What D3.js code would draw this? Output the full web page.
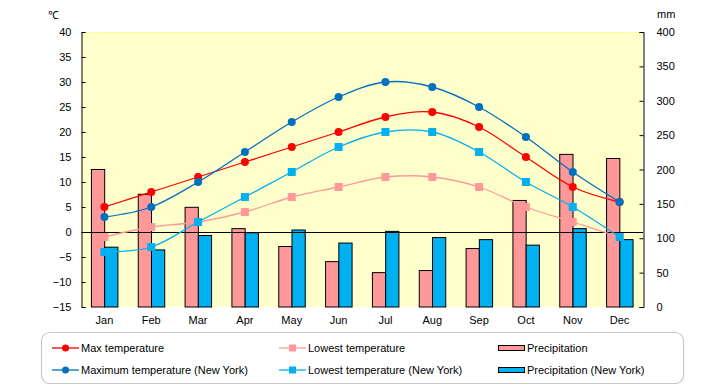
<!DOCTYPE html>
<html>
<head>
<meta charset="utf-8">
<script src="https://cdn.jsdelivr.net/npm/d3@7"></script>
<style>
  body { margin: 0; background: #fff; }
  text { font-family: "Liberation Sans", Arial, sans-serif; font-size: 11px; fill: #000; }
</style>
</head>
<body>
<svg id="chart" width="720" height="385"></svg>
<script>
// data
const months = ['Jan','Feb','Mar','Apr','May','Jun','Jul','Aug','Sep','Oct','Nov','Dec'];
const maxTemp    = [5, 8, 11, 14, 17, 20, 23, 24, 21, 15, 9, 6];
const lowTemp    = [-1, 1, 2, 4, 7, 9, 11, 11, 9, 5, 2, -1];
const maxTempNY  = [3, 5, 10, 16, 22, 27, 30, 29, 25, 19, 12, 6];
const lowTempNY  = [-4, -3, 2, 7, 12, 17, 20, 20, 16, 10, 5, -1];
const precip     = [200, 164, 145, 114, 88, 66, 50, 53, 85, 155, 222, 216];
const precipNY   = [87, 83, 104, 108, 112, 93, 110, 101, 98, 90, 114, 98];
const tempTicks  = d3.range(-15, 41, 5);
const mmTicks    = d3.range(0, 401, 50);

const svg = d3.select('#chart');

const pLeft = 81, pRight = 643, pTop = 32, pBottom = 307;

const x = d3.scaleBand().domain(months).range([pLeft, pRight]);
const xs = d3.scaleBand().domain(['p', 'ny']).range([-13, 13.5]);
const yT = d3.scaleLinear().domain([-15, 40]).range([pBottom, pTop]);
const yP = d3.scaleLinear().domain([0, 400]).range([pBottom, pTop]);
const cx = m => x(m) + x.bandwidth() / 2;

// plot area
svg.append('rect')
  .attr('x', pLeft).attr('y', pTop)
  .attr('width', pRight - pLeft).attr('height', pBottom - pTop)
  .attr('fill', '#ffffcc');
svg.append('line')
  .attr('x1', pLeft).attr('x2', pRight).attr('y1', pTop + 0.5).attr('y2', pTop + 0.5)
  .attr('stroke', '#ffff99');

// axes
const axL = svg.append('g').attr('transform', `translate(${pLeft + 0.5},0)`)
  .call(d3.axisLeft(yT).tickValues(tempTicks).tickSize(-4).tickPadding(10)
    .tickFormat(d => d < 0 ? '\u2212' + Math.abs(d) : d));
const axR = svg.append('g').attr('transform', `translate(${pRight + 0.5},0)`)
  .call(d3.axisRight(yP).tickValues(mmTicks).tickSize(-4).tickPadding(13));
[axL, axR].forEach(g => {
  g.select('.domain').attr('stroke', '#000');
  g.selectAll('.tick line').attr('stroke', '#000');
  g.selectAll('text').style('font-family', '"Liberation Sans", Arial, sans-serif').style('font-size', '11px');
});

svg.append('text').attr('x', 48).attr('y', 19).text('℃');
svg.append('text').attr('x', 657).attr('y', 18).text('mm');

// bars
const bars = svg.append('g');
bars.selectAll('rect.p')
  .data(precip)
  .join('rect')
    .attr('class', 'p')
    .attr('x', (d, i) => cx(months[i]) + xs('p'))
    .attr('y', d => yP(d))
    .attr('width', xs.bandwidth())
    .attr('height', d => pBottom - yP(d))
    .attr('fill', '#ff9999').attr('stroke', '#000').attr('stroke-width', 1);
bars.selectAll('rect.ny')
  .data(precipNY)
  .join('rect')
    .attr('class', 'ny')
    .attr('x', (d, i) => cx(months[i]) + xs('ny'))
    .attr('y', d => yP(d))
    .attr('width', xs.bandwidth())
    .attr('height', d => pBottom - yP(d))
    .attr('fill', '#00b0f0').attr('stroke', '#000').attr('stroke-width', 1);

// zero line
svg.append('line')
  .attr('x1', pLeft).attr('x2', pRight)
  .attr('y1', yT(0) + 0.5).attr('y2', yT(0) + 0.5)
  .attr('stroke', '#000');

// month labels
svg.append('g').selectAll('text')
  .data(months)
  .join('text')
    .attr('x', d => cx(d))
    .attr('y', 324)
    .attr('text-anchor', 'middle')
    .text(d => d);

// lines
const line = d3.line()
  .x((d, i) => cx(months[i]))
  .y(d => yT(d))
  .curve(d3.curveCatmullRom.alpha(0));

const series = [
  { name: 'Max temperature', vals: maxTemp, color: '#ff0000', mark: 'circle' },
  { name: 'Lowest temperature', vals: lowTemp, color: '#ff9999', mark: 'square' },
  { name: 'Maximum temperature (New York)', vals: maxTempNY, color: '#0070c0', mark: 'circle' },
  { name: 'Lowest temperature (New York)', vals: lowTempNY, color: '#00b0f0', mark: 'square' }
];

function drawMark(g, s, px, py) {
  if (s.mark === 'circle') {
    g.append('circle').attr('cx', px).attr('cy', py).attr('r', 4).attr('fill', s.color);
  } else {
    g.append('rect').attr('x', px - 4).attr('y', py - 4).attr('width', 8).attr('height', 8).attr('fill', s.color);
  }
}

series.forEach(s => {
  const g = svg.append('g');
  g.append('path')
    .attr('d', line(s.vals))
    .attr('fill', 'none')
    .attr('stroke', s.color)
    .attr('stroke-width', 1.3);
  s.vals.forEach((v, i) => drawMark(g, s, cx(months[i]), yT(v)));
});

// legend
const lg = svg.append('g');
lg.append('rect')
  .attr('x', 41.5).attr('y', 332.5).attr('width', 642).attr('height', 51)
  .attr('rx', 8)
  .attr('fill', '#fff').attr('stroke', '#c8c8c8').attr('stroke-width', 1.2);

const items = [
  { s: series[0], x: 52, y: 348 },
  { s: series[1], x: 279, y: 348 },
  { s: { name: 'Precipitation', color: '#ff9999', mark: 'bar' }, x: 498, y: 348 },
  { s: series[2], x: 52, y: 370 },
  { s: series[3], x: 279, y: 370 },
  { s: { name: 'Precipitation (New York)', color: '#00b0f0', mark: 'bar' }, x: 498, y: 370 }
];

items.forEach(it => {
  const g = lg.append('g');
  if (it.s.mark === 'bar') {
    g.append('rect').attr('x', it.x + 0.5).attr('y', it.y - 2.5).attr('width', 26).attr('height', 5)
      .attr('fill', it.s.color).attr('stroke', '#000');
  } else {
    g.append('line').attr('x1', it.x).attr('x2', it.x + 27).attr('y1', it.y).attr('y2', it.y)
      .attr('stroke', it.s.color).attr('stroke-width', 1.3);
    if (it.s.mark === 'circle') {
      g.append('circle').attr('cx', it.x + 13.5).attr('cy', it.y).attr('r', 3.5).attr('fill', it.s.color);
    } else {
      g.append('rect').attr('x', it.x + 10).attr('y', it.y - 3.5).attr('width', 7).attr('height', 7).attr('fill', it.s.color);
    }
  }
  g.append('text').attr('x', it.x + 29).attr('y', it.y + 4).text(it.s.name);
});
</script>
</body>
</html>
